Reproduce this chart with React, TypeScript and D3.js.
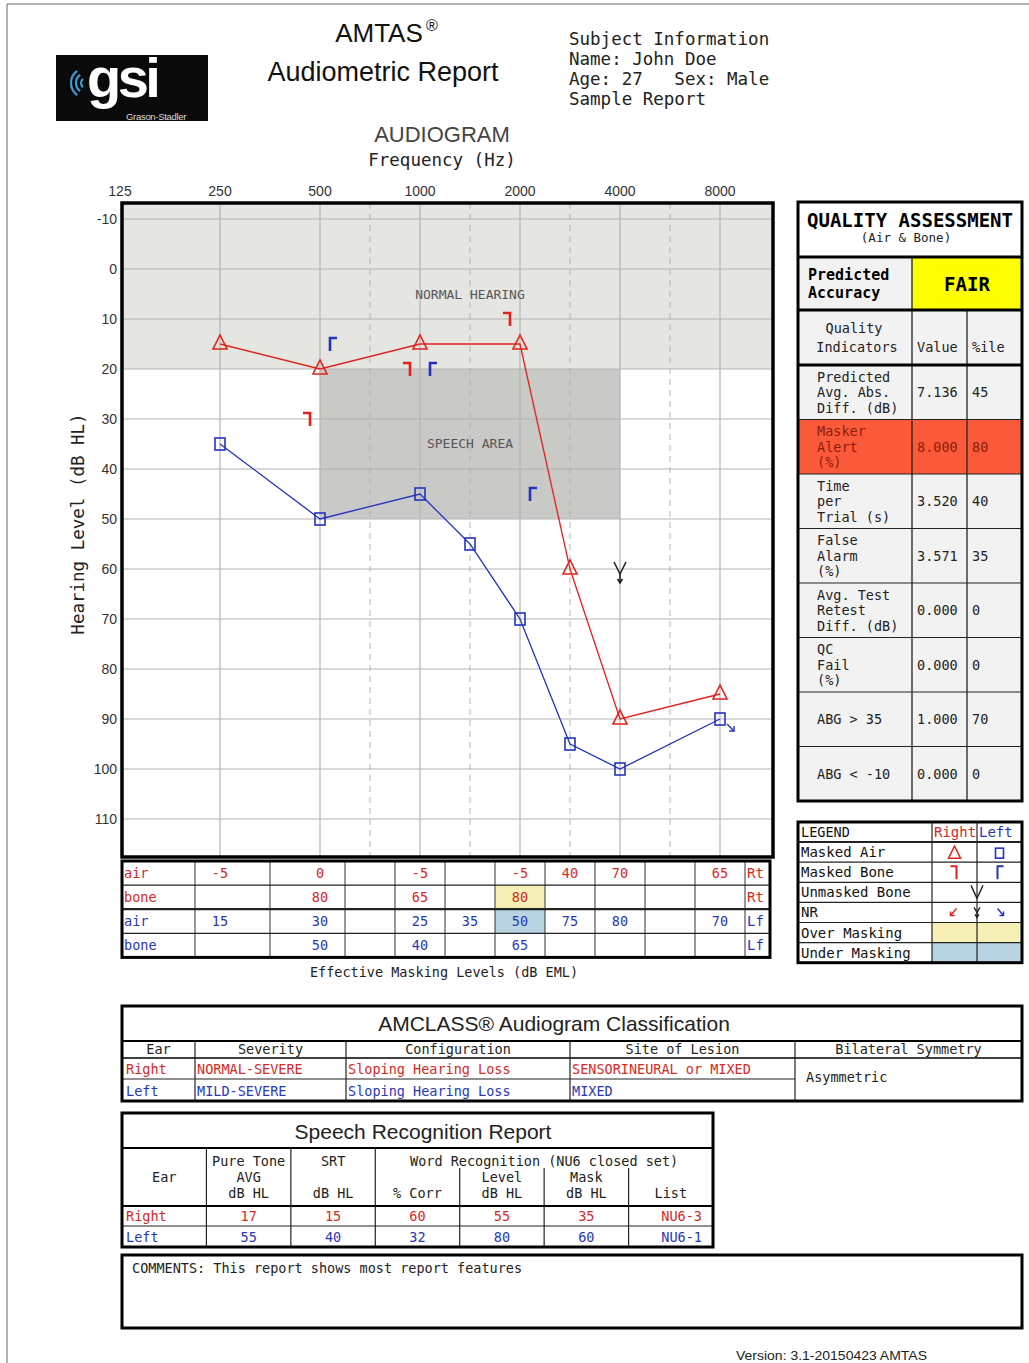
import React from "react";
import * as d3 from "d3";

// ---------- DATA ----------
const FREQ_TICKS = [125, 250, 500, 1000, 2000, 4000, 8000];
const OCTAVE_GRID = [250, 500, 1000, 2000, 4000, 8000];
const INTER_GRID = [750, 1500, 3000, 6000];
const DB_TICKS = [-10, 0, 10, 20, 30, 40, 50, 60, 70, 80, 90, 100, 110];

const rightAir = [
  { f: 250, db: 15 }, { f: 500, db: 20 }, { f: 1000, db: 15 }, { f: 2000, db: 15 },
  { f: 3000, db: 60 }, { f: 4000, db: 90 }, { f: 8000, db: 85 },
];
const leftAir = [
  { f: 250, db: 35 }, { f: 500, db: 50 }, { f: 1000, db: 45 }, { f: 1500, db: 55 },
  { f: 2000, db: 70 }, { f: 3000, db: 95 }, { f: 4000, db: 100 }, { f: 8000, db: 90 },
];
const rightMaskedBone = [{ f: 500, db: 30 }, { f: 1000, db: 20 }, { f: 2000, db: 10 }];
const leftMaskedBone = [{ f: 500, db: 15 }, { f: 1000, db: 20 }, { f: 2000, db: 45 }];
const unmaskedBoneNR = [{ f: 4000, db: 60 }];
const leftAirNR = [{ f: 8000, db: 90 }];

const maskFreqs = [250, 500, 750, 1000, 1500, 2000, 3000, 4000, 6000, 8000];
const maskRows = [
  { label: "air", ear: "Rt", side: "R", values: [-5, 0, null, -5, null, -5, 40, 70, null, 65] },
  { label: "bone", ear: "Rt", side: "R", values: [null, 80, null, 65, null, 80, null, null, null, null] },
  { label: "air", ear: "Lf", side: "L", values: [15, 30, null, 25, 35, 50, 75, 80, null, 70] },
  { label: "bone", ear: "Lf", side: "L", values: [null, 50, null, 40, null, 65, null, null, null, null] },
];
const overMasking = [{ row: 1, f: 2000 }];
const underMasking = [{ row: 2, f: 2000 }];

const subjectInfo = ["Subject Information", "Name: John Doe", "Age: 27   Sex: Male", "Sample Report"];

const qaIndicators = [
  { label: ["Predicted", "Avg. Abs.", "Diff. (dB)"], value: "7.136", pct: "45", alert: false },
  { label: ["Masker", "Alert", "(%)"], value: "8.000", pct: "80", alert: true },
  { label: ["Time", "per", "Trial (s)"], value: "3.520", pct: "40", alert: false },
  { label: ["False", "Alarm", "(%)"], value: "3.571", pct: "35", alert: false },
  { label: ["Avg. Test", "Retest", "Diff. (dB)"], value: "0.000", pct: "0", alert: false },
  { label: ["QC", "Fail", "(%)"], value: "0.000", pct: "0", alert: false },
  { label: ["ABG > 35"], value: "1.000", pct: "70", alert: false },
  { label: ["ABG < -10"], value: "0.000", pct: "0", alert: false },
];
const predictedAccuracy = "FAIR";

const legendRows = ["Masked Air", "Masked Bone", "Unmasked Bone", "NR", "Over Masking", "Under Masking"];

const amclassCols = ["Ear", "Severity", "Configuration", "Site of Lesion", "Bilateral Symmetry"];
const amclassRight = ["Right", "NORMAL-SEVERE", "Sloping Hearing Loss", "SENSORINEURAL or MIXED"];
const amclassLeft = ["Left", "MILD-SEVERE", "Sloping Hearing Loss", "MIXED"];
const amclassSymmetry = "Asymmetric";

const speechRight = ["Right", "17", "15", "60", "55", "35", "NU6-3"];
const speechLeft = ["Left", "55", "40", "32", "80", "60", "NU6-1"];

const commentText = "COMMENTS: This report shows most report features";
const versionText = "Version: 3.1-20150423 AMTAS";

// ---------- STYLE ----------
const MONO = "'DejaVu Sans Mono', monospace";
const SANS = "'Liberation Sans', Arial, sans-serif";
const RED = "#e0221c";
const BLUE = "#2233c0";
const TRED = "#d42a24";
const TBLUE = "#2a38b4";
const GRID = "#b4b4b4";
const YELLOW_BG = "#f6f0b6";
const BLUE_BG = "#b8d4e2";
const CELL = "#f2f2f2";

const octPos = (f: number) => Math.round(Math.log2(f / 125) * 2) / 2;
const x = d3.scaleLinear().domain([0, 6]).range([120, 720]);
const fx = (f: number) => x(octPos(f));
const y = d3.scaleLinear().domain([-10, 110]).range([219, 819]);
const PLOT = { l: 122, t: 203, r: 773, b: 857 };

type P = { f: number; db: number };
const line = d3.line<P>().x((d) => fx(d.f)).y((d) => y(d.db));

const T = (p: any) => {
  const { children, mono, size, ...rest } = p;
  return (
    <text fontFamily={mono === false ? SANS : MONO} fontSize={size || 13.5} {...rest}>
      {children}
    </text>
  );
};

function Audiogram() {
  return (
    <g>
      <rect x={PLOT.l} y={PLOT.t} width={PLOT.r - PLOT.l} height={y(20) - PLOT.t} fill="#e5e5e2" />
      <rect x={fx(500)} y={y(20)} width={fx(4000) - fx(500)} height={y(50) - y(20)} fill="#c9c9c7" />
      {DB_TICKS.map((d) => (
        <line key={d} x1={PLOT.l} x2={PLOT.r} y1={y(d)} y2={y(d)} stroke={GRID} strokeWidth={1.2} />
      ))}
      {OCTAVE_GRID.map((f) => (
        <line key={f} x1={fx(f)} x2={fx(f)} y1={PLOT.t} y2={PLOT.b} stroke={GRID} strokeWidth={1.2} />
      ))}
      {INTER_GRID.map((f) => (
        <line key={f} x1={fx(f)} x2={fx(f)} y1={PLOT.t} y2={PLOT.b} stroke={GRID} strokeWidth={1} strokeDasharray="6,5" />
      ))}
      <T x={470} y={299} textAnchor="middle" fill="#555" size={13}>NORMAL HEARING</T>
      <T x={470} y={448} textAnchor="middle" fill="#555" size={13}>SPEECH AREA</T>

      <path d={line(rightAir) || ""} fill="none" stroke={RED} strokeWidth={1.3} />
      <path d={line(leftAir) || ""} fill="none" stroke={BLUE} strokeWidth={1.3} />

      {rightAir.map((d, i) => {
        const cx = fx(d.f), cy = y(d.db);
        return <path key={i} d={`M${cx},${cy - 9}L${cx + 7},${cy + 5}L${cx - 7},${cy + 5}Z`} fill="none" stroke={RED} strokeWidth={1.6} />;
      })}
      {leftAir.map((d, i) => {
        const cx = fx(d.f), cy = y(d.db);
        return <rect key={i} x={cx - 5} y={cy - 6} width={10} height={12} fill="none" stroke={BLUE} strokeWidth={1.6} />;
      })}
      {rightMaskedBone.map((d, i) => {
        const cx = fx(d.f) - 13, cy = y(d.db);
        return <path key={i} d={`M${cx - 4},${cy - 6}H${cx + 3}V${cy + 7}`} fill="none" stroke={RED} strokeWidth={2.6} />;
      })}
      {leftMaskedBone.map((d, i) => {
        const cx = fx(d.f) + 13, cy = y(d.db);
        return <path key={i} d={`M${cx + 4},${cy - 6}H${cx - 3}V${cy + 7}`} fill="none" stroke={BLUE} strokeWidth={2.6} />;
      })}
      {unmaskedBoneNR.map((d, i) => {
        const cx = fx(d.f), cy = y(d.db);
        return (
          <g key={i} fill="none" stroke="#222" strokeWidth={1.6}>
            <path d={`M${cx - 6},${cy - 7}L${cx},${cy + 5}L${cx + 6},${cy - 7}`} />
            <path d={`M${cx},${cy + 5}V${cy + 14}`} />
            <path d={`M${cx - 2.5},${cy + 10}L${cx},${cy + 14}L${cx + 2.5},${cy + 10}`} />
          </g>
        );
      })}
      {leftAirNR.map((d, i) => {
        const cx = fx(d.f), cy = y(d.db);
        return (
          <g key={i} fill="none" stroke={BLUE} strokeWidth={1.4}>
            <path d={`M${cx + 7},${cy + 5}L${cx + 14},${cy + 12}`} />
            <path d={`M${cx + 9},${cy + 12}H${cx + 14}V${cy + 7}`} />
          </g>
        );
      })}

      <rect x={PLOT.l} y={PLOT.t} width={PLOT.r - PLOT.l} height={PLOT.b - PLOT.t} fill="none" stroke="#000" strokeWidth={3.5} />

      {FREQ_TICKS.map((f) => (
        <T key={f} mono={false} x={fx(f)} y={196} textAnchor="middle" size={14} fill="#333">{f}</T>
      ))}
      {DB_TICKS.map((d) => (
        <T key={d} mono={false} x={117} y={y(d) + 5} textAnchor="end" size={14} fill="#333">{d}</T>
      ))}
      <T x={0} y={0} transform="translate(84,524) rotate(-90)" textAnchor="middle" size={17.5} fill="#222">Hearing Level (dB HL)</T>
    </g>
  );
}

function MaskingTable() {
  const top = 861, rh = 24.1, left = 122, right = 770;
  const bounds = [0.75, 1.5, 2.25, 2.75, 3.25, 3.75, 4.25, 4.75, 5.25, 5.75, 6.25].map((o) => x(o));
  const colOf = (f: number) => maskFreqs.indexOf(f);
  return (
    <g>
      <rect x={left} y={top} width={right - left} height={rh * 4} fill="#fff" />
      {overMasking.map((o, i) => (
        <rect key={i} x={bounds[colOf(o.f)]} y={top + rh * o.row} width={bounds[colOf(o.f) + 1] - bounds[colOf(o.f)]} height={rh} fill={YELLOW_BG} />
      ))}
      {underMasking.map((o, i) => (
        <rect key={i} x={bounds[colOf(o.f)]} y={top + rh * o.row} width={bounds[colOf(o.f) + 1] - bounds[colOf(o.f)]} height={rh} fill={BLUE_BG} />
      ))}
      {bounds.map((b, i) => (
        <line key={i} x1={b} x2={b} y1={top} y2={top + rh * 4} stroke="#333" strokeWidth={1} />
      ))}
      {[1, 2, 3].map((r) => (
        <line key={r} x1={left} x2={right} y1={top + rh * r} y2={top + rh * r} stroke="#222" strokeWidth={r === 2 ? 2.2 : 1.2} />
      ))}
      {maskRows.map((row, r) => {
        const col = row.side === "R" ? TRED : TBLUE;
        const cy = top + rh * r + rh / 2 + 5;
        return (
          <g key={r}>
            <T x={124} y={cy} fill={col} size={13.5}>{row.label}</T>
            <T x={747} y={cy} fill={col} size={14}>{row.ear}</T>
            {row.values.map((v, i) =>
              v === null ? null : (
                <T key={i} x={fx(maskFreqs[i])} y={cy} textAnchor="middle" fill={col} size={13.5}>{v}</T>
              )
            )}
          </g>
        );
      })}
      <rect x={left} y={top} width={right - left} height={rh * 4} fill="none" stroke="#000" strokeWidth={3} />
      <T x={444} y={977} textAnchor="middle" size={13.5} fill="#222">Effective Masking Levels  (dB EML)</T>
    </g>
  );
}

function QualityTable() {
  const L = 798, R = 1022, c1 = 912, c2 = 967;
  const rowTop = 365, rh = 54.5;
  return (
    <g>
      <rect x={L} y={202} width={R - L} height={801 - 202} fill={CELL} />
      <rect x={L} y={202} width={R - L} height={55} fill="#fff" />
      <rect x={c1} y={257} width={R - c1} height={53} fill="#ffff00" />
      {qaIndicators.map((q, i) =>
        q.alert ? <rect key={i} x={L} y={rowTop + rh * i} width={R - L} height={rh} fill="#fb5a3a" /> : null
      )}
      <T x={910} y={227} textAnchor="middle" size={19} fontWeight="bold" fill="#000">QUALITY ASSESSMENT</T>
      <T x={906} y={242} textAnchor="middle" size={12.5} fill="#222">(Air &amp; Bone)</T>
      <T x={808} y={280} size={15} fontWeight="bold" fill="#000">Predicted</T>
      <T x={808} y={298} size={15} fontWeight="bold" fill="#000">Accuracy</T>
      <T x={967} y={291} textAnchor="middle" size={19} fontWeight="bold" fill="#000">{predictedAccuracy}</T>
      <T x={854} y={333} textAnchor="middle" size={13.5} fill="#222">Quality</T>
      <T x={857} y={352} textAnchor="middle" size={13.5} fill="#222">Indicators</T>
      <T x={917} y={352} size={13.5} fill="#222">Value</T>
      <T x={972} y={352} size={13.5} fill="#222">%ile</T>
      {qaIndicators.map((q, i) => {
        const cy = rowTop + rh * i + rh / 2;
        const col = q.alert ? "#8c1c0c" : "#222";
        const n = q.label.length;
        return (
          <g key={i}>
            {q.label.map((l, j) => (
              <T key={j} x={817} y={cy + (j - (n - 1) / 2) * 15.5 + 5} size={13.5} fill={col}>{l}</T>
            ))}
            <T x={917} y={cy + 5} size={13.5} fill={col}>{q.value}</T>
            <T x={972} y={cy + 5} size={13.5} fill={col}>{q.pct}</T>
            {i > 0 ? <line x1={L} x2={R} y1={rowTop + rh * i} y2={rowTop + rh * i} stroke="#222" strokeWidth={1.2} /> : null}
          </g>
        );
      })}
      <line x1={c1} x2={c1} y1={257} y2={801} stroke="#222" strokeWidth={1.3} />
      <line x1={c2} x2={c2} y1={310} y2={801} stroke="#222" strokeWidth={1.3} />
      {[257, 310, 365].map((yy) => (
        <line key={yy} x1={L} x2={R} y1={yy} y2={yy} stroke="#000" strokeWidth={3} />
      ))}
      <rect x={L} y={202} width={R - L} height={801 - 202} fill="none" stroke="#000" strokeWidth={3} />
    </g>
  );
}

function Legend() {
  const L = 798, R = 1022, top = 822, rh = 20.1, c1 = 932, c2 = 977;
  const rcx = 954.5, lcx = 999.5;
  const rowY = (i: number) => top + rh * (i + 1);
  return (
    <g>
      <rect x={L} y={top} width={R - L} height={rh * 7} fill="#fff" />
      <rect x={c1} y={rowY(4)} width={R - c1} height={rh} fill={YELLOW_BG} />
      <rect x={c1} y={rowY(5)} width={R - c1} height={rh} fill={BLUE_BG} />
      {[1, 2, 3, 4, 5, 6].map((i) => (
        <line key={i} x1={L} x2={R} y1={top + rh * i} y2={top + rh * i} stroke="#222" strokeWidth={i === 1 ? 2 : 1.2} />
      ))}
      <line x1={c1} x2={c1} y1={top} y2={top + rh * 7} stroke="#222" strokeWidth={1.2} />
      <line x1={c2} x2={c2} y1={top} y2={top + rh * 7} stroke="#222" strokeWidth={1.2} />
      <T x={801} y={top + 15} size={13.5} fill="#111">LEGEND</T>
      <T x={934} y={top + 15} size={14} fill={TRED}>Right</T>
      <T x={979} y={top + 15} size={14} fill={TBLUE}>Left</T>
      {legendRows.map((l, i) => (
        <T key={i} x={801} y={rowY(i) + 15} size={14} fill="#111">{l}</T>
      ))}
      {(() => {
        const cy = rowY(0) + rh / 2 + 1;
        return (
          <g>
            <path d={`M${rcx},${cy - 7}L${rcx + 6},${cy + 5}L${rcx - 6},${cy + 5}Z`} fill="none" stroke={RED} strokeWidth={1.5} />
            <rect x={lcx - 4} y={cy - 5} width={8} height={10} fill="none" stroke={BLUE} strokeWidth={1.6} />
          </g>
        );
      })()}
      {(() => {
        const cy = rowY(1) + rh / 2;
        return (
          <g fill="none" strokeWidth={2}>
            <path d={`M${rcx - 4},${cy - 6}H${rcx + 2}V${cy + 7}`} stroke={RED} />
            <path d={`M${lcx + 4},${cy - 6}H${lcx - 2}V${cy + 7}`} stroke={BLUE} />
          </g>
        );
      })()}
      {(() => {
        const cy = rowY(2) + rh / 2;
        return <path d={`M${c2 - 6},${cy - 7}L${c2},${cy + 6}L${c2 + 6},${cy - 7}`} fill="none" stroke="#222" strokeWidth={1.4} />;
      })()}
      {(() => {
        const cy = rowY(3) + rh / 2;
        return (
          <g fill="none" strokeWidth={1.4}>
            <g stroke={RED}>
              <path d={`M${rcx + 2},${cy - 4}L${rcx - 4},${cy + 3}`} />
              <path d={`M${rcx - 4},${cy - 1}V${cy + 3}H${rcx}`} />
            </g>
            <g stroke="#222">
              <path d={`M${c2 - 3},${cy - 5}L${c2},${cy}L${c2 + 3},${cy - 5}`} />
              <path d={`M${c2},${cy}V${cy + 5}`} />
              <path d={`M${c2 - 2},${cy + 2}L${c2},${cy + 5}L${c2 + 2},${cy + 2}`} />
            </g>
            <g stroke={BLUE}>
              <path d={`M${lcx - 2},${cy - 4}L${lcx + 4},${cy + 3}`} />
              <path d={`M${lcx + 4},${cy - 1}V${cy + 3}H${lcx}`} />
            </g>
          </g>
        );
      })()}
      <rect x={L} y={top} width={R - L} height={rh * 7} fill="none" stroke="#000" strokeWidth={3} />
    </g>
  );
}

function Amclass() {
  const L = 122, R = 1022, top = 1006, titleB = 1041, headB = 1058, midB = 1079, bot = 1101;
  const cols = [122, 195, 346, 570, 795, 1022];
  return (
    <g>
      <rect x={L} y={top} width={R - L} height={bot - top} fill="#fff" />
      <T mono={false} x={554} y={1031} textAnchor="middle" size={21} fill="#222">AMCLASS® Audiogram Classification</T>
      <line x1={L} x2={R} y1={titleB} y2={titleB} stroke="#000" strokeWidth={2.2} />
      <line x1={L} x2={R} y1={headB} y2={headB} stroke="#000" strokeWidth={1.6} />
      <line x1={L} x2={cols[4]} y1={midB} y2={midB} stroke="#222" strokeWidth={1.2} />
      {cols.slice(1, 5).map((c) => (
        <line key={c} x1={c} x2={c} y1={titleB} y2={bot} stroke="#222" strokeWidth={1.2} />
      ))}
      {amclassCols.map((h, i) => (
        <T key={i} x={(cols[i] + cols[i + 1]) / 2} y={headB - 4} textAnchor="middle" size={13.5} fill="#222">{h}</T>
      ))}
      {amclassRight.map((v, i) => (
        <T key={i} x={cols[i] + (i === 0 ? 4 : 2)} y={midB - 5} size={13.5} fill={TRED}>{v}</T>
      ))}
      {amclassLeft.map((v, i) => (
        <T key={i} x={cols[i] + (i === 0 ? 4 : 2)} y={bot - 5} size={13.5} fill={TBLUE}>{v}</T>
      ))}
      <T x={806} y={1082} size={13.5} fill="#222">{amclassSymmetry}</T>
      <rect x={L} y={top} width={R - L} height={bot - top} fill="none" stroke="#000" strokeWidth={3} />
    </g>
  );
}

function Speech() {
  const L = 122, R = 713, top = 1113, titleB = 1148, headB = 1206, midB = 1226, bot = 1247;
  const cw = (R - L) / 7;
  const cols = d3.range(8).map((i) => L + cw * i);
  const cx = (i: number) => (cols[i] + cols[i + 1]) / 2;
  return (
    <g>
      <rect x={L} y={top} width={R - L} height={bot - top} fill="#fff" />
      <T mono={false} x={423} y={1139} textAnchor="middle" size={21} fill="#222">Speech Recognition Report</T>
      <line x1={L} x2={R} y1={titleB} y2={titleB} stroke="#000" strokeWidth={2.2} />
      <line x1={L} x2={R} y1={headB} y2={headB} stroke="#000" strokeWidth={2} />
      <line x1={L} x2={R} y1={midB} y2={midB} stroke="#222" strokeWidth={1.2} />
      {[1, 2, 3].map((i) => (
        <line key={i} x1={cols[i]} x2={cols[i]} y1={titleB} y2={bot} stroke="#222" strokeWidth={1.2} />
      ))}
      {[4, 5, 6].map((i) => (
        <line key={i} x1={cols[i]} x2={cols[i]} y1={1168} y2={bot} stroke="#222" strokeWidth={1.2} />
      ))}
      <T x={cx(0)} y={1182} textAnchor="middle" fill="#222">Ear</T>
      <T x={cx(1)} y={1166} textAnchor="middle" fill="#222">Pure Tone</T>
      <T x={cx(1)} y={1182} textAnchor="middle" fill="#222">AVG</T>
      <T x={cx(1)} y={1198} textAnchor="middle" fill="#222">dB HL</T>
      <T x={cx(2)} y={1166} textAnchor="middle" fill="#222">SRT</T>
      <T x={cx(2)} y={1198} textAnchor="middle" fill="#222">dB HL</T>
      <T x={(cols[3] + cols[7]) / 2} y={1166} textAnchor="middle" fill="#222">Word Recognition (NU6 closed set)</T>
      <T x={cx(3)} y={1198} textAnchor="middle" fill="#222">% Corr</T>
      <T x={cx(4)} y={1182} textAnchor="middle" fill="#222">Level</T>
      <T x={cx(4)} y={1198} textAnchor="middle" fill="#222">dB HL</T>
      <T x={cx(5)} y={1182} textAnchor="middle" fill="#222">Mask</T>
      <T x={cx(5)} y={1198} textAnchor="middle" fill="#222">dB HL</T>
      <T x={cx(6)} y={1198} textAnchor="middle" fill="#222">List</T>
      {[speechRight, speechLeft].map((row, r) => {
        const col = r === 0 ? TRED : TBLUE;
        const yy = (r === 0 ? midB : bot) - 5;
        return (
          <g key={r}>
            {row.map((v, i) =>
              i === 0 ? (
                <T key={i} x={L + 4} y={yy} fill={col}>{v}</T>
              ) : i === 6 ? (
                <T key={i} x={cols[7] - 11} y={yy} textAnchor="end" fill={col}>{v}</T>
              ) : (
                <T key={i} x={cx(i)} y={yy} textAnchor="middle" fill={col}>{v}</T>
              )
            )}
          </g>
        );
      })}
      <rect x={L} y={top} width={R - L} height={bot - top} fill="none" stroke="#000" strokeWidth={3} />
    </g>
  );
}

function Header() {
  return (
    <g>
      <rect x={56} y={55} width={152} height={66} fill="#0a0a0a" />
      <g fill="none" stroke="#3d9ad6" strokeWidth={2.2}>
        {[5, 10, 15].map((r) => (
          <path key={r} d={d3.arc()({ innerRadius: r, outerRadius: r, startAngle: -Math.PI * 0.8, endAngle: -Math.PI * 0.2 }) || ""} transform="translate(86,83)" />
        ))}
      </g>
      <T mono={false} x={87} y={97} size={56} fontWeight="bold" fill="#fff" letterSpacing={-3.5}>gsi</T>
      <T mono={false} x={126} y={119.5} size={9.5} fill="#ddd" letterSpacing={-0.3}>Grason-Stadler</T>

      <T mono={false} x={379} y={42} textAnchor="middle" size={26} fill="#111">AMTAS</T>
      <T mono={false} x={432} y={31} textAnchor="middle" size={16} fill="#111">®</T>
      <T mono={false} x={383} y={81} textAnchor="middle" size={27} fill="#111">Audiometric Report</T>
      <T mono={false} x={442} y={142} textAnchor="middle" size={22} fill="#444">AUDIOGRAM</T>
      <T x={442} y={166} textAnchor="middle" size={17.5} fill="#222">Frequency (Hz)</T>
      {subjectInfo.map((s, i) => (
        <T key={i} x={569} y={45 + i * 20} size={17.5} fill="#222" style={{ whiteSpace: "pre" }} xmlSpace="preserve">{s}</T>
      ))}
    </g>
  );
}

export default function App() {
  return (
    <svg width={1029} height={1363} style={{ position: "absolute", left: 0, top: 0, background: "#fff" }}>
      <rect x={0} y={0} width={1029} height={1363} fill="#fff" />
      <path d="M1029,4H7V1363" fill="none" stroke="#666" strokeWidth={1} />
      <Header />
      <Audiogram />
      <MaskingTable />
      <QualityTable />
      <Legend />
      <Amclass />
      <Speech />
      <rect x={122} y={1255} width={900} height={73} fill="#fff" stroke="#000" strokeWidth={3} />
      <T x={132} y={1273} size={13.5} fill="#222">{commentText}</T>
      <T mono={false} x={736} y={1360} size={12.5} fill="#222" textLength={191} lengthAdjust="spacingAndGlyphs">{versionText}</T>
    </svg>
  );
}
